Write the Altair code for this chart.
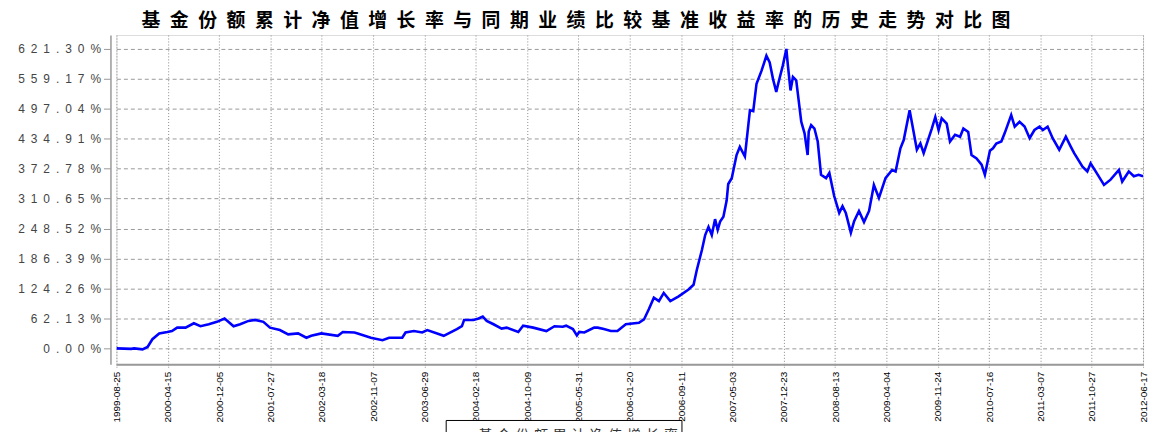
import datetime as dt
import altair as alt
import pandas as pd

# ---------------- data ----------------
title_text = "基金份额累计净值增长率与同期业绩比较基准收益率的历史走势对比图"
series_name = "基金份额累计净值增长率"
start_date = "1999-08-25"

tick_dates = ["1999-08-25", "2000-04-15", "2000-12-05", "2001-07-27", "2002-03-18",
              "2002-11-07", "2003-06-29", "2004-02-18", "2004-10-09", "2005-05-31",
              "2006-01-20", "2006-09-11", "2007-05-03", "2007-12-23", "2008-08-13",
              "2009-04-04", "2009-11-24", "2010-07-16", "2011-03-07", "2011-10-27",
              "2012-06-17"]

y_ticks = [0.00, 62.13, 124.26, 186.39, 248.52, 310.65, 372.78, 434.91, 497.04, 559.17, 621.30]

# days elapsed since start_date
days = [0, 67, 81, 119, 142, 164, 195, 232, 253, 277,
        315, 353, 383, 421, 458, 493, 534, 564, 602, 632,
        670, 700, 745, 783, 828, 866, 888, 934, 1009, 1032,
        1085, 1100, 1160, 1213, 1243, 1303, 1318, 1356, 1394, 1417,
        1492, 1552, 1575, 1585, 1628, 1651, 1670, 1688, 1719, 1756,
        1779, 1832, 1854, 1900, 1960, 1997, 2035, 2050, 2081, 2099,
        2110, 2133, 2178, 2194, 2222, 2254, 2284, 2322, 2382, 2405,
        2427, 2450, 2473, 2495, 2525, 2563, 2608, 2631, 2646, 2669,
        2684, 2699, 2714, 2729, 2741, 2752, 2767, 2782, 2789, 2805,
        2827, 2842, 2865, 2888, 2903, 2918, 2941, 2963, 2978, 2993,
        3008, 3019, 3038, 3054, 3061, 3073, 3084, 3099, 3122, 3137,
        3151, 3156, 3167, 3182, 3197, 3212, 3235, 3250, 3272, 3295,
        3310, 3325, 3348, 3363, 3385, 3408, 3431, 3453, 3476, 3506,
        3536, 3552, 3574, 3589, 3616, 3649, 3665, 3680, 3717, 3733,
        3748, 3762, 3785, 3800, 3823, 3846, 3861, 3883, 3898, 3921,
        3944, 3959, 3982, 3996, 4011, 4034, 4049, 4079, 4095, 4117,
        4140, 4163, 4185, 4208, 4223, 4245, 4268, 4298, 4328, 4351,
        4366, 4404, 4426, 4441, 4464, 4502, 4532, 4570, 4585, 4615,
        4638, 4660, 4680]

growth = [0, -1, 0, -2, 3, 19, 31, 34, 36, 43,
          43, 52, 46, 50, 55, 62, 46, 50, 57, 59,
          55, 43, 38, 29, 31, 22, 26, 31, 26, 34,
          33, 31, 22, 17, 22, 22, 33, 36, 33, 38,
          26, 40, 46, 59, 59, 62, 66, 57, 50, 41,
          43, 34, 47, 43, 36, 46, 45, 47, 40, 27,
          34, 33, 43, 43, 40, 36, 36, 50, 53, 60,
          81, 105, 98, 115, 98, 108, 122, 132, 163, 204,
          235, 252, 235, 268, 246, 263, 273, 307, 341, 353,
          401, 418, 398, 494, 492, 549, 576, 607, 593, 559,
          532, 553, 587, 621, 587, 535, 563, 556, 470, 446,
          401, 450, 463, 456, 429, 360, 353, 364, 316, 281,
          295, 281, 240, 264, 285, 262, 285, 339, 312, 353,
          370, 367, 415, 432, 494, 412, 425, 405, 456, 480,
          453, 477, 466, 429, 443, 439, 456, 449, 401, 394,
          381, 360, 410, 415, 425, 429, 446, 484, 460, 470,
          460, 436, 453, 460, 453, 460, 436, 412, 439, 418,
          405, 377, 367, 384, 367, 339, 350, 370, 346, 367,
          357, 360, 357]

# ---------------- build table ----------------
d0 = dt.date.fromisoformat(start_date)
dates = [(d0 + dt.timedelta(days=d)).isoformat() for d in days]
df = pd.DataFrame({"date": dates, "value": growth, "series": series_name})


def dtobj(s):
    y, m, d = (int(p) for p in s.split("-"))
    return alt.DateTime(year=y, month=m, date=d, utc=True)


EN = "\u2002"
spaced_title = EN.join(list(title_text))

x_axis = alt.Axis(
    values=[dtobj(s) for s in tick_dates],
    labelExpr="utcFormat(datum.value, '%Y-%m-%d')",
    labelAngle=270,
    labelFont="Liberation Sans Narrow, Arial Narrow, Liberation Sans",
    labelFontSize=10,
    labelColor="#000000",
    labelPadding=3,
    labelOverlap=False,
    labelFlush=False,
    title=None,
    grid=True,
    gridDash=[1, 2],
    gridColor="#888888",
    gridWidth=1,
    domainColor="#999999",
    domainWidth=2,
    tickColor="#999999",
    tickDash=[1, 1],
    tickSize=4,
)

y_axis = alt.Axis(
    values=y_ticks,
    labelExpr="join(split(format(datum.value, '.2f') + '%', ''), '\u2002')",
    labelFont="Liberation Sans",
    labelFontSize=12,
    labelColor="#444444",
    labelPadding=3,
    title=None,
    grid=True,
    gridDash=[4, 3],
    gridColor="#999999",
    gridWidth=1,
    domainColor="#999999",
    domainWidth=1.5,
    tickColor="#999999",
    tickSize=7,
    offset=6,
)

chart = alt.Chart(df).mark_line(strokeWidth=2.6, clip=True).encode(
    x=alt.X("date:T",
            scale=alt.Scale(domain=[dtobj(tick_dates[0]), dtobj(tick_dates[-1])], nice=False),
            axis=x_axis),
    y=alt.Y("value:Q",
            scale=alt.Scale(domain=[-33, 650], nice=False, zero=False),
            axis=y_axis),
    color=alt.Color("series:N",
                    scale=alt.Scale(range=["#0000ff"]),
                    legend=alt.Legend(
                        orient="none", legendX=331, legendY=387, title=None,
                        symbolType="stroke", symbolSize=600, symbolStrokeWidth=1.5,
                        labelFont="Noto Sans CJK SC", labelFontSize=14,
                        labelColor="#333333",
                        labelExpr="join(split(datum.label, ''), '\u2004')",
                        labelLimit=400,
                        strokeColor="#000000",
                        padding=3, fillColor="white")),
).properties(
    width=1032,
    height=331,
    autosize=alt.AutoSizeParams(type="none"),
    padding={"left": 109, "top": 26, "right": 7, "bottom": 80},
    title=alt.TitleParams(text=spaced_title, anchor="middle", dx=-54, offset=4,
                          font="Noto Sans CJK SC", fontSize=19, fontWeight="bold",
                          color="#000000"),
).configure_view(
    stroke="#999999", strokeWidth=1.5,
).configure(background="white")

chart.save("out.html", embed_options={"renderer": "svg", "actions": False})
